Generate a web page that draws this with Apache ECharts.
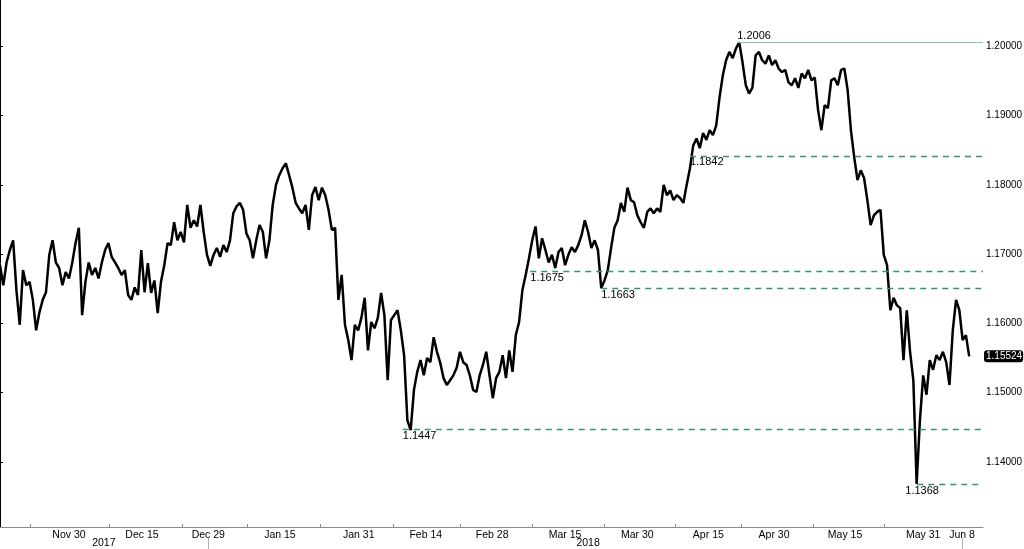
<!DOCTYPE html>
<html>
<head>
<meta charset="utf-8">
<script src="https://cdn.jsdelivr.net/npm/echarts@6/dist/echarts.min.js"></script>
<style>
  html, body { margin: 0; padding: 0; background: #fff; }
  #chart { width: 1024px; height: 549px; }
</style>
</head>
<body>
<div id="chart"></div>
<script>
  // price sampled every half trading day, starting mid Nov 2017
  var step = 0.5
  var prices = [
    1.1684, 1.1655, 1.1688, 1.1706, 1.1720, 1.1648, 1.1598, 1.1677, 1.1655, 1.1660,
    1.1634, 1.1590, 1.1616, 1.1634, 1.1645, 1.1699, 1.1720, 1.1688, 1.1680, 1.1655,
    1.1674, 1.1665, 1.1688, 1.1716, 1.1738, 1.1612, 1.1660, 1.1688, 1.1670, 1.1680,
    1.1665, 1.1688, 1.1706, 1.1716, 1.1696, 1.1688, 1.1680, 1.1670, 1.1677, 1.1641,
    1.1634, 1.1652, 1.1641, 1.1706, 1.1645, 1.1687, 1.1644, 1.1662, 1.1615, 1.1660,
    1.1684, 1.1716, 1.1713, 1.1746, 1.1720, 1.1732, 1.1717, 1.1771, 1.1738, 1.1749,
    1.1740, 1.1771, 1.1732, 1.1699, 1.1683, 1.1699, 1.1709, 1.1696, 1.1713, 1.1703,
    1.1720, 1.1759, 1.1769, 1.1774, 1.1764, 1.1730, 1.1720, 1.1694, 1.1720, 1.1742,
    1.1732, 1.1694, 1.1720, 1.1771, 1.1800, 1.1814, 1.1824, 1.1831, 1.1814, 1.1796,
    1.1774, 1.1766, 1.1759, 1.1771, 1.1735, 1.1785, 1.1797, 1.1778, 1.1796, 1.1785,
    1.1764, 1.1735, 1.1738, 1.1634, 1.1670, 1.1598, 1.1576, 1.1547, 1.1598, 1.1590,
    1.1608, 1.1637, 1.1561, 1.1602, 1.1593, 1.1608, 1.1644, 1.1612, 1.1518, 1.1605,
    1.1612, 1.1619, 1.1590, 1.1554, 1.1460, 1.1446, 1.1504, 1.1530, 1.1547, 1.1525,
    1.1550, 1.1544, 1.1580, 1.1559, 1.1543, 1.1521, 1.1511, 1.1518, 1.1525, 1.1536,
    1.1559, 1.1544, 1.1540, 1.1525, 1.1504, 1.1501, 1.1525, 1.1540, 1.1559, 1.1525,
    1.1492, 1.1521, 1.1530, 1.1554, 1.1521, 1.1561, 1.1530, 1.1583, 1.1602, 1.1648,
    1.1670, 1.1694, 1.1720, 1.1740, 1.1694, 1.1723, 1.1706, 1.1688, 1.1699, 1.1680,
    1.1703, 1.1709, 1.1684, 1.1699, 1.1710, 1.1703, 1.1713, 1.1727, 1.1749, 1.1732,
    1.1709, 1.1720, 1.1706, 1.1651, 1.1662, 1.1677, 1.1709, 1.1738, 1.1749, 1.1774,
    1.1761, 1.1796, 1.1778, 1.1775, 1.1756, 1.1746, 1.1738, 1.1761, 1.1766, 1.1759,
    1.1766, 1.1761, 1.1800, 1.1785, 1.1792, 1.1778, 1.1785, 1.1781, 1.1774, 1.1800,
    1.1824, 1.1857, 1.1867, 1.1853, 1.1875, 1.1865, 1.1879, 1.1872, 1.1886, 1.1926,
    1.1958, 1.1980, 1.1992, 1.1983, 1.1997, 1.2006, 1.1977, 1.1944, 1.1932, 1.1940,
    1.1987, 1.1992, 1.1980, 1.1975, 1.1987, 1.1973, 1.1980, 1.1968, 1.1963, 1.1966,
    1.1948, 1.1944, 1.1954, 1.1940, 1.1961, 1.1954, 1.1966, 1.1951, 1.1955, 1.1908,
    1.1879, 1.1915, 1.1911, 1.1951, 1.1954, 1.1944, 1.1966, 1.1968, 1.1937, 1.1879,
    1.1840, 1.1807, 1.1821, 1.1810, 1.1778, 1.1742, 1.1756, 1.1761, 1.1764, 1.1699,
    1.1684, 1.1619, 1.1637, 1.1626, 1.1622, 1.1547, 1.1619, 1.1559, 1.1518, 1.1368,
    1.1460, 1.1525, 1.1497, 1.1547, 1.1533, 1.1554, 1.1547, 1.1559, 1.1544, 1.1511,
    1.1590, 1.1634, 1.1619, 1.1576, 1.1583, 1.15524
  ]

  // date labels on the trading-day scale
  var dateLabels = ['Nov 30', 'Dec 15', 'Dec 29', 'Jan 15', 'Jan 31', 'Feb 14', 'Feb 28',
    'Mar 15', 'Mar 30', 'Apr 15', 'Apr 30', 'May 15', 'May 31', 'Jun 8']
  var datePos = [10.5, 21.6, 31.7, 42.6, 54.6, 64.8, 74.9, 86, 97, 107.8, 117.8, 128.6, 140.5, 146.4]
  var minorDays = [4.6, 16.6, 27.7, 37.7, 48.7, 59.8, 70, 81, 91.9, 102.7, 112.8, 123.7, 134.5]
  var yearLabels = ['2017', '2018']
  var yearPos = [15.8, 89.5]
  var yearMarks = [31.7, 146.4]

  var yTicks = [1.14, 1.15, 1.16, 1.17, 1.18, 1.19, 1.20]
  var yMinor = [1.135, 1.145, 1.155, 1.165, 1.175, 1.185, 1.195, 1.205]

  // key levels: drawn value, text, day they start
  var levelValues = [1.2006, 1.1842, 1.1675, 1.1651, 1.1447, 1.1368]
  var levelTexts = ['1.2006', '1.1842', '1.1675', '1.1663', '1.1447', '1.1368']
  var levelStart = [112.2, 105.0, 80.7, 91.5, 61.3, 139.6]

  var xMax = 149.6
  var lastPrice = prices[prices.length - 1]
  var font = 'Liberation Sans'
  var dashStyle = { color: '#3a9079', type: [6, 5], width: 1.3 }
  var solidStyle = { color: '#86c7b8', type: 'solid', width: 1 }

  var lineData = prices.map(function (p, i) { return [i * step, p] })

  var markData = levelValues.map(function (v, i) {
    var style = i === 0 ? solidStyle : dashStyle
    return [
      {
        coord: [levelStart[i], v],
        lineStyle: style,
        label: {
          show: true,
          formatter: levelTexts[i],
          position: i === 0 ? 'insideStartTop' : 'insideStartBottom',
          distance: i === 5 ? [-12, 1] : [0, 1],
          color: '#000',
          fontSize: 11,
          fontFamily: font,
        },
      },
      { coord: [xMax, v], lineStyle: style },
    ]
  })

  function labelFor (list, pos) {
    return function (val) {
      for (var k = 0; k < pos.length; k++) {
        if (Math.abs(pos[k] - val) < 0.01) return list[k]
      }
      return ''
    }
  }

  var myChart = echarts.init(document.getElementById('chart'))
  var option = {
    animation: false,
    grid: { left: 0, right: 41, top: 0, bottom: 22, outerBoundsMode: 'none', containLabel: false },
    xAxis: [
      {
        type: 'value',
        min: 0,
        max: xMax,
        axisLine: { show: true, lineStyle: { color: '#8a8a8a', width: 1 } },
        axisTick: {
          show: true,
          inside: true,
          length: 3,
          customValues: minorDays,
          lineStyle: { color: '#8a8a8a' },
        },
        axisLabel: {
          customValues: datePos,
          formatter: labelFor(dateLabels, datePos),
          color: '#000',
          fontSize: 10.5,
          fontFamily: font,
          margin: 3,
        },
        splitLine: { show: false },
      },
      {
        type: 'value',
        position: 'bottom',
        offset: 11,
        min: 0,
        max: xMax,
        axisLine: { show: false },
        axisTick: {
          show: true,
          length: 11,
          customValues: yearMarks,
          lineStyle: { color: '#b0b0b0' },
        },
        axisLabel: {
          customValues: yearPos,
          formatter: labelFor(yearLabels, yearPos),
          color: '#000',
          fontSize: 10.5,
          fontFamily: font,
          margin: 0,
        },
        splitLine: { show: false },
      },
    ],
    yAxis: [
      {
        type: 'value',
        position: 'right',
        min: 1.1306,
        max: 1.2067,
        axisLine: { show: true, lineStyle: { color: '#000', width: 1 } },
        axisTick: {
          show: true,
          length: 3,
          customValues: yTicks,
          lineStyle: { color: '#000' },
        },
        axisLabel: {
          customValues: yTicks,
          formatter: function (v) { return v.toFixed(5) },
          color: '#000',
          fontSize: 10,
          fontFamily: font,
          margin: 3,
        },
        splitLine: { show: false },
      },
      {
        type: 'value',
        position: 'right',
        min: 1.1306,
        max: 1.2067,
        axisLine: { show: false },
        axisTick: {
          show: true,
          inside: true,
          length: 4,
          customValues: yMinor,
          lineStyle: { color: '#555' },
        },
        axisLabel: { show: false },
        splitLine: { show: false },
      },
      {
        type: 'value',
        position: 'right',
        min: 1.1306,
        max: 1.2067,
        axisLine: { show: false },
        axisTick: { show: false },
        axisLabel: {
          customValues: [lastPrice],
          formatter: function (v) { return v.toFixed(5) },
          color: '#fff',
          backgroundColor: '#000',
          borderRadius: 3,
          padding: [1, 1, 1, 2],
          fontSize: 10,
          fontFamily: font,
          margin: 1,
        },
        splitLine: { show: false },
      },
    ],
    series: [
      {
        type: 'line',
        data: lineData,
        showSymbol: false,
        symbol: 'none',
        lineStyle: { color: '#000', width: 2.5 },
        markLine: {
          silent: true,
          symbol: ['none', 'none'],
          animation: false,
          lineStyle: dashStyle,
          data: markData,
        },
        z: 3,
      },
    ],
  }
  myChart.setOption(option)
</script>
</body>
</html>
